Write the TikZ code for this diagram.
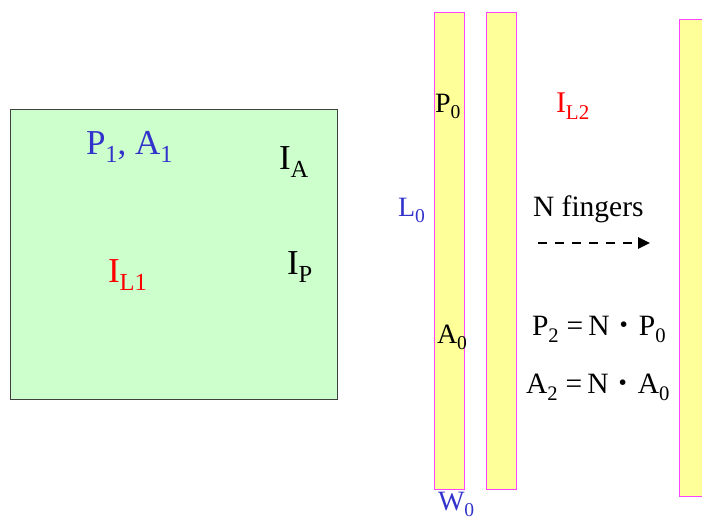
\documentclass[tikz,border=0pt]{standalone}
\usepackage{fontspec}
\setmainfont{Liberation Serif}
\usepackage{graphicx}
\usetikzlibrary{arrows.meta}
\definecolor{boxgreen}{HTML}{CCFFCC}
\definecolor{stripyellow}{HTML}{FFFF99}
\definecolor{stripedge}{HTML}{FF44FF}
\definecolor{lblblue}{HTML}{3333CC}
\newcommand{\sbx}[2][0.7]{\raisebox{-0.24em}{\scalebox{#1}{#2}}}
\newcommand{\bdot}{\raisebox{3pt}{\scalebox{0.8}{\textbullet}}}
\tikzset{
  stripbox/.style={draw=stripedge, fill=stripyellow, line width=1pt},
  lbl/.style={anchor=base west, inner sep=0pt, outer sep=0pt},
  big/.style={font=\fontsize{35}{40}\selectfont},
  mid/.style={font=\fontsize{28}{32}\selectfont},
  eqn/.style={font=\fontsize{29.5}{34}\selectfont},
}
\begin{document}
\begin{tikzpicture}[x=1pt,y=-1pt]
\useasboundingbox (0,0) rectangle (702,522);
% green box
\draw[fill=boxgreen, draw=black!75, line width=1pt] (10,109) rectangle (337,399);
% strips
\draw[stripbox] (434,12) rectangle (464,489);
\draw[stripbox] (486,12) rectangle (516,489);
\draw[stripbox] (679,19) rectangle (710,496);
% green box labels
\node[lbl, big, text=lblblue] (pa1) at (86,154) {P\sbx{1}, A\sbx{1}};
\node[lbl, big] (ia) at (279,169) {I\sbx{A}};
\node[lbl, big, text=red] (il1) at (108,282) {I\sbx{L1}};
\node[lbl, big] (ip) at (287,274) {I\sbx{P}};
% strip labels
\node[lbl, mid] (p0) at (435,112) {P\sbx{0}};
\node[lbl, mid, text=lblblue] (l0) at (398,216) {L\sbx{0}};
\node[lbl, mid] (a0) at (437,343) {A\sbx{0}};
\node[lbl, mid, text=lblblue] (w0) at (438,510) {W\sbx{0}};
% right side
\node[lbl, font=\fontsize{30}{34}\selectfont, text=red] (il2) at (556,112) {I\sbx{L2}};
\node[lbl, font=\fontsize{29.5}{34}\selectfont] (nf) at (533,216) {N fingers};
\coordinate (arrs) at (538,243);
\coordinate (arre) at (650,243);
\draw[line width=2.6pt, dash pattern=on 9pt off 8pt, -{Triangle[length=12pt,width=11pt]}] (arrs) -- (arre);
\node[lbl, eqn] (p2) at (532,335) {P\sbx{2}\hspace{8pt}=\hspace{5pt}N\hspace{10pt}\bdot\hspace{11pt}P\sbx{0}};
\node[lbl, eqn] (a2) at (526,393) {A\sbx{2}\hspace{8pt}=\hspace{5pt}N\hspace{10pt}\bdot\hspace{11pt}A\sbx{0}};
\end{tikzpicture}
\end{document}
